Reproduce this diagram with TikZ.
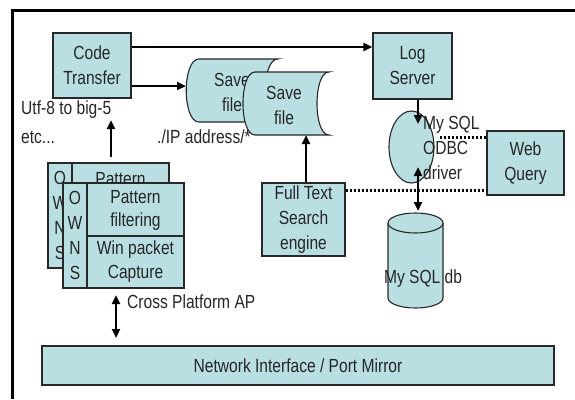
\documentclass[tikz,border=0pt]{standalone}
\usepackage{fontspec}
\setmainfont[FakeStretch=0.82]{Liberation Sans}
\usetikzlibrary{arrows.meta,shapes.geometric}
\definecolor{boxfill}{RGB}{186,223,227}
\definecolor{boxline}{RGB}{40,40,40}
\tikzset{
  lbl/.style={font=\fontsize{19}{25}\selectfont, inner sep=0pt, text=black!85},
  box/.style={draw=boxline, line width=1.1pt, fill=boxfill, align=center, inner sep=0pt,
    font=\fontsize{19}{25}\selectfont, text=black!85},
  arr/.style={line width=2.6pt, -{Triangle[length=9pt,width=8pt]}},
  darr/.style={line width=2.6pt, {Triangle[length=9pt,width=8pt]}-{Triangle[length=9pt,width=8pt]}},
  dots/.style={line width=3pt, dash pattern=on 2.4pt off 1.6pt, black},
  shapeline/.style={draw=boxline, line width=1.1pt, fill=boxfill}
}
\begin{document}
\begin{tikzpicture}[x=1pt,y=-1pt]
\useasboundingbox (0,0) rectangle (575,399);
\fill[white] (0,0) rectangle (575,399);
% frame
\draw[line width=3pt] (12,399) -- (12,10) -- (575,10);

% boxes
\node[box, minimum width=78pt, minimum height=65pt] (code) at (92,65.5) {Code\\Transfer};
\node[box, minimum width=79pt, minimum height=66pt] (log) at (412.5,66) {Log\\Server};
\node[box, minimum width=77pt, minimum height=64pt] (web) at (525.5,163) {Web\\Query};
\node[box, minimum width=83pt, minimum height=73pt] (fts) at (303.5,219.5) {Full Text\\Search\\engine};
\node[box, minimum width=512pt, minimum height=39pt] (net) at (298,365.5) {Network Interface / Port Mirror};

% Save file 1 (stored data shape)
\draw[shapeline] (199,59) -- (278,59) .. controls (261,59) and (261,122) .. (278,122)
  -- (199,122) .. controls (182,122) and (182,59) .. (199,59) -- cycle;
\node[lbl, align=center] (save1) at (232,92) {Save\\file};
% Save file 2
\draw[shapeline] (255,72) -- (329,72) .. controls (313,72) and (313,135) .. (329,135)
  -- (255,135) .. controls (239,135) and (239,72) .. (255,72) -- cycle;
\node[lbl, align=center] (save2) at (284,105) {Save\\file};
\coordinate (save1w) at (186,86);
\coordinate (save2s) at (306,135);

% OWNS back stack (mostly hidden)
\begin{scope}[shift={(-15,-20)}]
\draw[shapeline] (63,183) rectangle (184,288);
\draw[boxline, line width=1.1pt] (87,183) -- (87,288);
\node[lbl, align=center, font=\fontsize{19}{25}\selectfont] (owsb) at (75,235.5) {O\\W\\N\\S};
\node[lbl] (patb) at (135.5,199) {Pattern};
\end{scope}
% OWNS front stack
\draw[shapeline] (63,183) rectangle (184,288);
\draw[boxline, line width=1.1pt] (87,183) -- (87,288) (87,236) -- (184,236);
\node[lbl, align=center, font=\fontsize{19}{25}\selectfont] (owsf) at (75,235.5) {O\\W\\N\\S};
\node[lbl, align=center, font=\fontsize{19}{23}\selectfont] (patf) at (135.5,210.5) {Pattern\\filtering};
\node[lbl, align=center, font=\fontsize{19}{24}\selectfont] (winf) at (135.5,262) {Win packet\\Capture};

% ODBC ellipse
\node[ellipse, draw=boxline, line width=1.1pt, fill=boxfill, minimum width=45pt, minimum height=72pt, inner sep=0pt] (odbc) at (411.5,147) {};
% MySQL db cylinder
\fill[boxfill] (388,223) -- (388,298) arc[start angle=180, end angle=0, x radius=27.5, y radius=10] -- (443,223) -- cycle;
\draw[boxline, line width=1.1pt] (388,223) -- (388,298) arc[start angle=180, end angle=0, x radius=27.5, y radius=10] -- (443,223);
\draw[shapeline] (415.5,223) ellipse[x radius=27.5, y radius=10];
\coordinate (dbtop) at (418,211);

% dotted links
\coordinate (odbce) at (440,137);
\draw[dots] (odbce) -- (odbce -| web.west);
\draw[dots] (fts.east |- 0,190) -- (web.west |- 0,190);

% labels
\node[lbl, align=left, anchor=west] (odbct) at (423,148) {My SQL\\ODBC\\driver};
\node[lbl] (dbt) at (423,279) {My SQL db};
\node[lbl, anchor=west] (utf) at (21,110) {Utf-8 to big-5};
\node[lbl, anchor=west] (etc) at (21,137) {etc...};
\node[lbl, anchor=west] (ip) at (157,137) {./IP address/*};
\node[lbl, anchor=west] (cross) at (127,302) {Cross Platform AP};

% arrows
\draw[arr] (code.east |- 0,47) -- (log.west |- 0,47);
\draw[arr] (code.east |- save1w) -- (save1w);
\coordinate (upbot) at (111,157);
\coordinate (uptop) at (111,120);
\draw[arr] (upbot) -- (uptop);
\draw[arr] (fts.north -| save2s) -- (save2s);
\coordinate (odbcin) at (418,124);
\draw[arr] (log.south -| odbcin) -- (odbcin);
\coordinate (odbcbot) at (418,167);
\draw[darr] (odbcbot) -- (dbtop);
\coordinate (crosstop) at (116,295);
\coordinate (crossbot) at (116,338);
\draw[darr] (crosstop) -- (crossbot);
\end{tikzpicture}
\end{document}
